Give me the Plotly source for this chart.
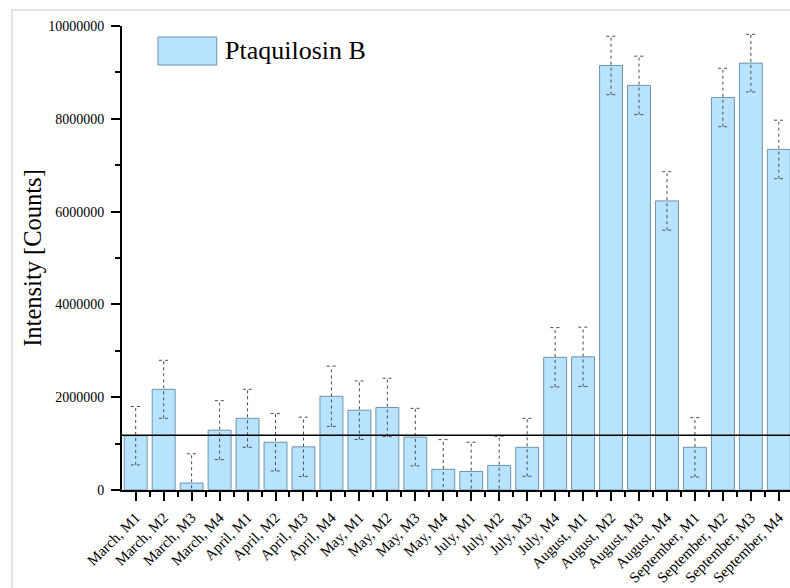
import plotly.graph_objects as go

categories = [
    "March, M1", "March, M2", "March, M3", "March, M4",
    "April, M1", "April, M2", "April, M3", "April, M4",
    "May, M1", "May, M2", "May, M3", "May, M4",
    "July, M1", "July, M2", "July, M3", "July, M4",
    "August, M1", "August, M2", "August, M3", "August, M4",
    "September, M1", "September, M2", "September, M3", "September, M4",
]
intensity = [
    1170000, 2170000, 150000, 1290000,
    1545000, 1030000, 930000, 2020000,
    1720000, 1780000, 1140000, 446000,
    400000, 530000, 920000, 2860000,
    2870000, 9150000, 8720000, 6230000,
    920000, 8460000, 9200000, 7340000,
]
errors = [
    630000, 625000, 630000, 635000,
    625000, 620000, 640000, 650000,
    630000, 630000, 620000, 640000,
    630000, 630000, 625000, 640000,
    640000, 630000, 630000, 630000,
    640000, 630000, 620000, 630000,
]
threshold = 1180000
series_name = "Ptaquilosin B"
y_ticks = [0, 2000000, 4000000, 6000000, 8000000, 10000000]

FONT = "Times New Roman, Liberation Serif, serif"
xs = list(range(len(categories)))

fig = go.Figure()
fig.add_trace(go.Bar(
    x=xs, y=intensity, width=0.82,
    marker=dict(color="#b7e3fe", line=dict(color="#6f93ad", width=1)),
    name=series_name, showlegend=False,
))

# dotted error bars built from the data
ex, ey = [], []
cap = 0.17
for x, v, e in zip(xs, intensity, errors):
    ex += [x, x, None, x - cap, x + cap, None, x - cap, x + cap, None]
    ey += [v - e, v + e, None, v + e, v + e, None, v - e, v - e, None]
fig.add_trace(go.Scatter(
    x=ex, y=ey, mode="lines",
    line=dict(color="#4a4a4a", width=1, dash="dot"),
    showlegend=False, hoverinfo="skip",
))

fig.add_hline(y=threshold, line=dict(color="black", width=1.5))

# legend box + text
fig.add_shape(type="rect", xref="paper", yref="paper",
              x0=0.0539, x1=0.1418, y0=0.9159, y1=0.9763,
              fillcolor="#b7e3fe", line=dict(color="#6f93ad", width=1))
fig.add_annotation(xref="paper", yref="paper", x=0.1515, y=0.947,
                   text=series_name, showarrow=False, xanchor="left",
                   yanchor="middle", font=dict(family=FONT, size=26, color="black"))

# outer light frame
fig.add_shape(type="rect", xref="paper", yref="paper",
              x0=-0.1647, x1=1.05, y0=-0.3, y1=1.0345,
              line=dict(color="#e3e3e3", width=2), layer="below")

fig.update_layout(
    width=790, height=588,
    margin=dict(l=122, r=0, t=26, b=98),
    paper_bgcolor="white", plot_bgcolor="white",
    font=dict(family=FONT, color="black", size=14),
    showlegend=False,
)
fig.update_xaxes(
    range=[-0.49, 23.4], automargin=False,
    tickmode="array", tickvals=xs, ticktext=categories,
    tickangle=-45, tickfont=dict(family=FONT, size=15, color="black"),
    ticklabelstandoff=2,
    showline=True, linecolor="black", linewidth=2,
    ticks="outside", ticklen=9, tickwidth=2, tickcolor="black",
    minor=dict(tickmode="array", tickvals=[i + 0.5 for i in xs],
               ticks="outside", ticklen=5, tickwidth=2, tickcolor="black"),
    showgrid=False, zeroline=False,
)
fig.update_yaxes(
    range=[0, 10000000], automargin=False,
    tickmode="array", tickvals=y_ticks, tickformat="d",
    tickfont=dict(family=FONT, size=14, color="black"),
    ticklabelstandoff=4,
    showline=True, linecolor="black", linewidth=2,
    ticks="outside", ticklen=9, tickwidth=2, tickcolor="black",
    minor=dict(tickmode="array", tickvals=[1000000, 3000000, 5000000, 7000000, 9000000],
               ticks="outside", ticklen=5, tickwidth=2, tickcolor="black"),
    showgrid=False, zeroline=False,
    title=dict(text="Intensity [Counts]", font=dict(family=FONT, size=24.5, color="black"), standoff=0),
)

fig.write_html(
    "out.html",
    config={"displayModeBar": False},
    post_script="document.body.style.margin='0';document.body.style.overflow='hidden';",
)
